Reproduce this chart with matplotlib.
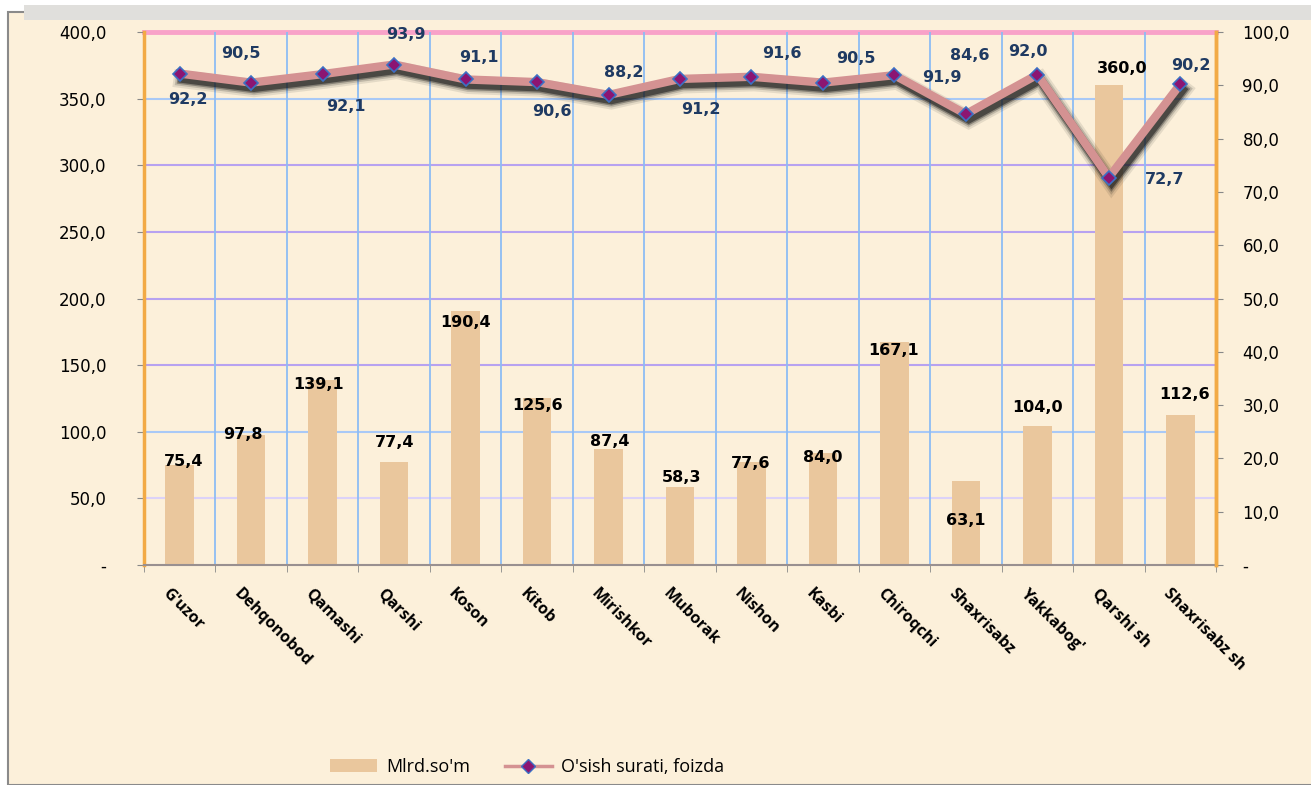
import numpy as np
import matplotlib; matplotlib.use("Agg")
import matplotlib.pyplot as plt
import matplotlib.patheffects as pe
from matplotlib.patches import Rectangle
from matplotlib.lines import Line2D
import matplotlib.transforms as mtrans

tumanlar = ["G'uzor", "Dehqonobod", "Qamashi", "Qarshi", "Koson", "Kitob",
            "Mirishkor", "Muborak", "Nishon", "Kasbi", "Chiroqchi", "Shaxrisabz",
            "Yakkabog'", "Qarshi sh", "Shaxrisabz sh"]
mlrd = [75.4, 97.8, 139.1, 77.4, 190.4, 125.6, 87.4, 58.3, 77.6, 84.0,
        167.1, 63.1, 104.0, 360.0, 112.6]
osish = [92.2, 90.5, 92.1, 93.9, 91.1, 90.6, 88.2, 91.2, 91.6, 90.5,
         91.9, 84.6, 92.0, 72.7, 90.2]

# joylashuv (piksel) - yorliqlar siljishi
bar_lbl_off = [(4, 3), (-8, 0), (-4, -5), (0, 19), (0, -11), (0, -8), (1, 7),
               (2, 10), (-1, -2), (0, -4), (-1, -8), (0, -40), (0, 19), (13, 17), (4, 20)]
line_lbl_off = [(8, -26), (-10, 29), (23, -32), (12, 30), (13, 22), (15, -29),
                (15, 22), (21, -31), (30, 23), (33, 24), (47, -2), (4, 59),
                (-9, 23), (56, -2), (11, 19)]

def fmt(v):
    return "-" if v == 0 else ("%.1f" % v).replace(".", ",")

W, H = 1311, 785
fig = plt.figure(figsize=(W/100, H/100), dpi=100, facecolor="white")
# fon va ramka
fig.patches.append(Rectangle((8/W, 0), 1, 1 - 12/H, transform=fig.transFigure,
                             facecolor="#fcf0da", edgecolor="#8a8a8a", lw=1.5, zorder=-10))
fig.patches.append(Rectangle((24/W, 1 - 20/H), 1, 15/H, transform=fig.transFigure,
                             facecolor="#e0dfdc", edgecolor="none", zorder=-9))

ax = fig.add_axes([144/W, 1 - 565/H, (1216 - 144)/W, (565 - 32)/H])
ax.set_facecolor("none")
x = np.arange(len(tumanlar))

bars = ax.bar(x, mlrd, width=0.4, color="#eac79d", zorder=2)
for i, (b, v) in enumerate(zip(bars, mlrd)):
    dx, dy = bar_lbl_off[i]
    ax.annotate(fmt(v), (b.get_x() + b.get_width()/2, v), xytext=(dx, dy),
                textcoords="offset pixels", ha="center", va="center",
                fontsize=11.5, fontweight="bold", color="black", zorder=5)

ax.set_xlim(-0.5, len(tumanlar) - 0.5)
ax.set_ylim(0, 400)
ax.set_yticks(np.arange(0, 401, 50))
ax.set_yticklabels([fmt(v) for v in np.arange(0, 401, 50)], fontsize=12)
ax.tick_params(axis="y", length=5, color="#888888", pad=22)

# gorizontal chiziqlar
hcol = {50: "#dcd2f8", 100: "#a9c9f6", 150: "#b7a2f0", 200: "#b7a2f0",
        250: "#b7a2f0", 300: "#b7a2f0", 350: "#a9c9f6"}
for v, c in hcol.items():
    ax.axhline(v, color=c, lw=1.5, zorder=1)
ax.axhline(400, color="#f8a2c8", lw=3.5, zorder=1, clip_on=False)
for xb in np.arange(0.5, len(tumanlar) - 0.5, 1):
    ax.axvline(xb, color="#8dbcf4", lw=1.3, zorder=1)

ax.set_xticks(x)
ax.set_xticklabels(tumanlar, rotation=-45, ha="left", va="top",
                   rotation_mode="anchor", fontsize=11.5, fontweight="bold",
                   family="Open Sans")
ax.set_xticks(np.arange(-0.5, len(tumanlar), 1), minor=True)
ax.tick_params(axis="x", which="major", length=0, pad=15)
ax.tick_params(axis="x", which="minor", length=5, color="#888888")
shift = mtrans.ScaledTranslation(-9/100, 0, fig.dpi_scale_trans)
for t in ax.get_xticklabels():
    t.set_transform(t.get_transform() + shift)

ax.spines["top"].set_visible(False)
ax.spines["left"].set_color("#f2aa45")
ax.spines["left"].set_linewidth(2.5)
ax.spines["right"].set_color("#f2aa45")
ax.spines["right"].set_linewidth(2.5)
ax.spines["bottom"].set_color("#999090")
ax.spines["bottom"].set_linewidth(1.5)

ax2 = ax.twinx()
ax2.set_ylim(0, 100)
ax2.set_yticks(np.arange(0, 101, 10))
ax2.set_yticklabels([fmt(v) for v in np.arange(0, 101, 10)], fontsize=12)
ax2.tick_params(axis="y", length=5, color="#888888", pad=14)
for s in ["top", "left", "bottom"]:
    ax2.spines[s].set_visible(False)
ax2.spines["right"].set_color("#f2aa45")
ax2.spines["right"].set_linewidth(2.5)

# yumshoq soya
shadow = [pe.SimpleLineShadow(offset=(2, -4), shadow_color="#1a1a1a", alpha=a, linewidth=w)
          for w, a in [(13, 0.10), (10, 0.18), (7.5, 0.35), (5.5, 0.55)]]
ax2.plot(x, osish, color="#d49292", lw=6, solid_joinstyle="miter", zorder=3,
         path_effects=shadow + [pe.Normal()])
ax2.plot(x, osish, ls="none", marker="D", ms=7, mfc="#8c1572", mec="#3c70c4",
         mew=1.2, zorder=4)
for i, v in enumerate(osish):
    dx, dy = line_lbl_off[i]
    ax2.annotate(fmt(v), (x[i], v), xytext=(dx, dy), textcoords="offset pixels",
                 ha="center", va="center", fontsize=11.5, fontweight="bold",
                 color="#1f3a62", zorder=5)

h1 = Rectangle((0, 0), 1, 1, facecolor="#eac79d", edgecolor="none")
h2 = Line2D([], [], color="#d49292", lw=2.5, marker="D", ms=7,
            mfc="#8c1572", mec="#3c70c4")
fig.legend([h1, h2], ["Mlrd.so'm", "O'sish surati, foizda"], loc="center",
           bbox_to_anchor=(527/W, 1 - 767/H), ncol=2, frameon=False,
           prop={"family": "Open Sans", "size": 13}, handlelength=2.6,
           handletextpad=0.5, columnspacing=1.9)

fig.savefig("out.png", dpi=100, facecolor=fig.get_facecolor())
